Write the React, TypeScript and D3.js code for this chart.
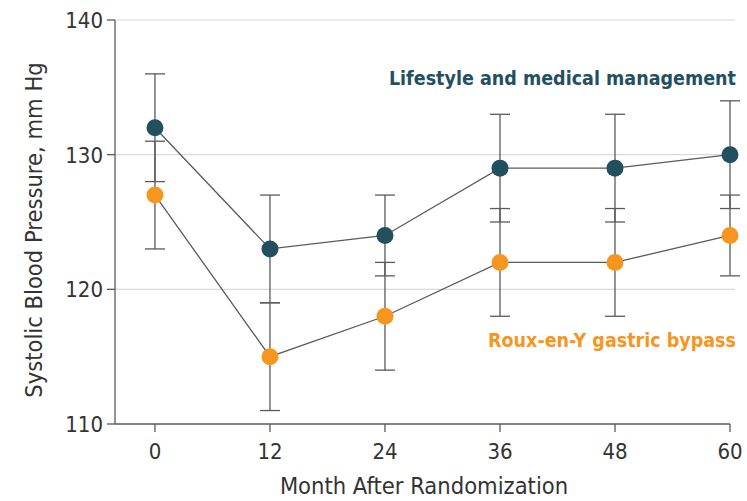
import React from "react";
import * as d3 from "d3";

const months = [0, 12, 24, 36, 48, 60];
const lifestyleMean = [132, 123, 124, 129, 129, 130];
const lifestyleLow = [128, 119, 121, 125, 125, 126];
const lifestyleHigh = [136, 127, 127, 133, 133, 134];
const bypassMean = [127, 115, 118, 122, 122, 124];
const bypassLow = [123, 111, 114, 118, 118, 121];
const bypassHigh = [131, 119, 122, 126, 126, 127];
const yTicks = [110, 120, 130, 140];

const W = 747;
const H = 501;
const FONT = "'DejaVu Sans Condensed', 'Liberation Sans Narrow', sans-serif";
const DARK = "#23505f";
const ORANGE = "#f7961f";
const LINE = "#5a5a5a";

export default function App() {
  const left = 115;
  const x = d3.scaleLinear().domain([-4.17, 60]).range([left, 730]);
  const y = d3.scaleLinear().domain([110, 140]).range([424, 20]);
  const line = d3
    .line<number>()
    .x((_, i) => x(months[i]))
    .y((d) => y(d));

  const series = [
    { mean: lifestyleMean, low: lifestyleLow, high: lifestyleHigh, color: DARK },
    { mean: bypassMean, low: bypassLow, high: bypassHigh, color: ORANGE },
  ];
  const cap = 10;

  return (
    <svg
      width={W}
      height={H}
      style={{ position: "absolute", left: 0, top: 0, background: "#fff" }}
      fontFamily={FONT}
    >
      {/* grid */}
      {yTicks
        .filter((t) => t > 110)
        .map((t) => (
          <line key={t} x1={left} x2={735} y1={y(t)} y2={y(t)} stroke="#d9d9d9" strokeWidth={1.2} />
        ))}
      {/* axes */}
      <line x1={left} x2={left} y1={y(140)} y2={y(110)} stroke={LINE} strokeWidth={1.3} />
      <line x1={left} x2={x(60)} y1={y(110)} y2={y(110)} stroke={LINE} strokeWidth={1.3} />
      {yTicks.map((t) => (
        <g key={t}>
          <line x1={left - 8} x2={left} y1={y(t)} y2={y(t)} stroke={LINE} strokeWidth={1.3} />
          <text x={left - 12} y={y(t)} dy="0.36em" textAnchor="end" fontSize={22} fill="#333">
            {t}
          </text>
        </g>
      ))}
      {months.map((m) => (
        <g key={m}>
          <line x1={x(m)} x2={x(m)} y1={y(110)} y2={y(110) + 8} stroke={LINE} strokeWidth={1.3} />
          <text x={x(m)} y={459} textAnchor="middle" fontSize={22} fill="#333">
            {m}
          </text>
        </g>
      ))}
      <text x={424} y={494} textAnchor="middle" fontSize={23.5} fill="#333">
        Month After Randomization
      </text>
      <text
        transform="translate(42, 230) rotate(-90)"
        textAnchor="middle"
        fontSize={23.5}
        fill="#333"
      >
        Systolic Blood Pressure, mm Hg
      </text>

      {/* error bars */}
      {series.map((s, si) =>
        months.map((m, i) => (
          <g key={`${si}-${i}`} stroke={LINE} strokeWidth={1.3}>
            <line x1={x(m)} x2={x(m)} y1={y(s.low[i])} y2={y(s.high[i])} />
            <line x1={x(m) - cap} x2={x(m) + cap} y1={y(s.low[i])} y2={y(s.low[i])} />
            <line x1={x(m) - cap} x2={x(m) + cap} y1={y(s.high[i])} y2={y(s.high[i])} />
          </g>
        ))
      )}
      {/* lines */}
      {series.map((s, si) => (
        <path key={si} d={line(s.mean) || ""} fill="none" stroke={LINE} strokeWidth={1.3} />
      ))}
      {/* points */}
      {series.map((s, si) =>
        s.mean.map((v, i) => (
          <circle key={`${si}-${i}`} cx={x(months[i])} cy={y(v)} r={8.5} fill={s.color} />
        ))
      )}

      {/* labels */}
      <text x={736} y={85} textAnchor="end" fontSize={19.5} fontWeight="bold" fill={DARK}>
        Lifestyle and medical management
      </text>
      <text x={736} y={347} textAnchor="end" fontSize={19.5} fontWeight="bold" fill={ORANGE}>
        Roux-en-Y gastric bypass
      </text>
    </svg>
  );
}
